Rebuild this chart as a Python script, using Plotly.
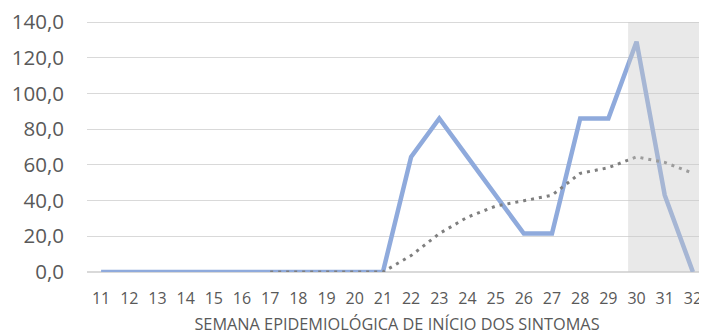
import plotly.graph_objects as go

weeks = list(range(11, 33))
cases = [0, 0, 0, 0, 0, 0, 0, 0, 0, 0, 0, 64.5, 86.0, 64.5, 43.0, 21.5, 21.5, 86.0, 86.0, 129.0, 43.0, 0]
ma_weeks = list(range(17, 33))
ma_values = [0, 0, 0, 0, 0, 9.2, 21.5, 30.7, 36.9, 39.9, 43.0, 55.3, 58.4, 64.5, 61.4, 55.3]
y_ticks = [0, 20, 40, 60, 80, 100, 120, 140]
y_tick_labels = ["0,0", "20,0", "40,0", "60,0", "80,0", "100,0", "120,0", "140,0"]
shade_start, shade_end = 29.7, 32.5

fig = go.Figure()
fig.add_trace(go.Scatter(x=weeks, y=cases, mode="lines",
                         line=dict(color="#8FAADC", width=4.5), hoverinfo="skip"))
fig.add_trace(go.Scatter(x=ma_weeks, y=ma_values, mode="lines",
                         line=dict(color="#7F7F7F", width=3, dash="3px,5px"), hoverinfo="skip"))

fig.add_shape(type="rect", xref="x", yref="y", x0=shade_start, x1=shade_end, y0=0, y1=140,
              fillcolor="rgba(200,200,200,0.4)", line=dict(width=0), layer="above")

# page body has an 8px margin, so the figure is 8px smaller and offset
fig.update_layout(
    width=699, height=327,
    margin=dict(l=79, r=0, t=13, b=63),
    paper_bgcolor="white", plot_bgcolor="white",
    showlegend=False,
    font=dict(family="Open Sans", color="#595959"),
    xaxis=dict(range=[10.5, 32.5], tickmode="array", tickvals=weeks, automargin=False,
               ticktext=[str(w) for w in weeks], tickfont=dict(size=16, color="#595959"),
               showgrid=False, zeroline=False, showline=False, ticks="", ticklen=0,
               ticklabelstandoff=15, ticklabeloverflow="allow",
               title=dict(text="SEMANA EPIDEMIOLÓGICA DE INÍCIO DOS SINTOMAS",
                          font=dict(size=16.3, color="#595959"), standoff=10)),
    yaxis=dict(range=[0, 140.6], tickmode="array", tickvals=y_ticks, ticktext=y_tick_labels,
               tickfont=dict(size=20.5, color="#595959"), automargin=False,
               ticklabeloverflow="allow",
               showgrid=True, gridcolor="#D9D9D9", gridwidth=1.3,
               zeroline=True, zerolinecolor="#D9D9D9", zerolinewidth=1.5,
               showline=False, ticks="", ticklabelstandoff=22),
)

fig.write_html("out.html")
